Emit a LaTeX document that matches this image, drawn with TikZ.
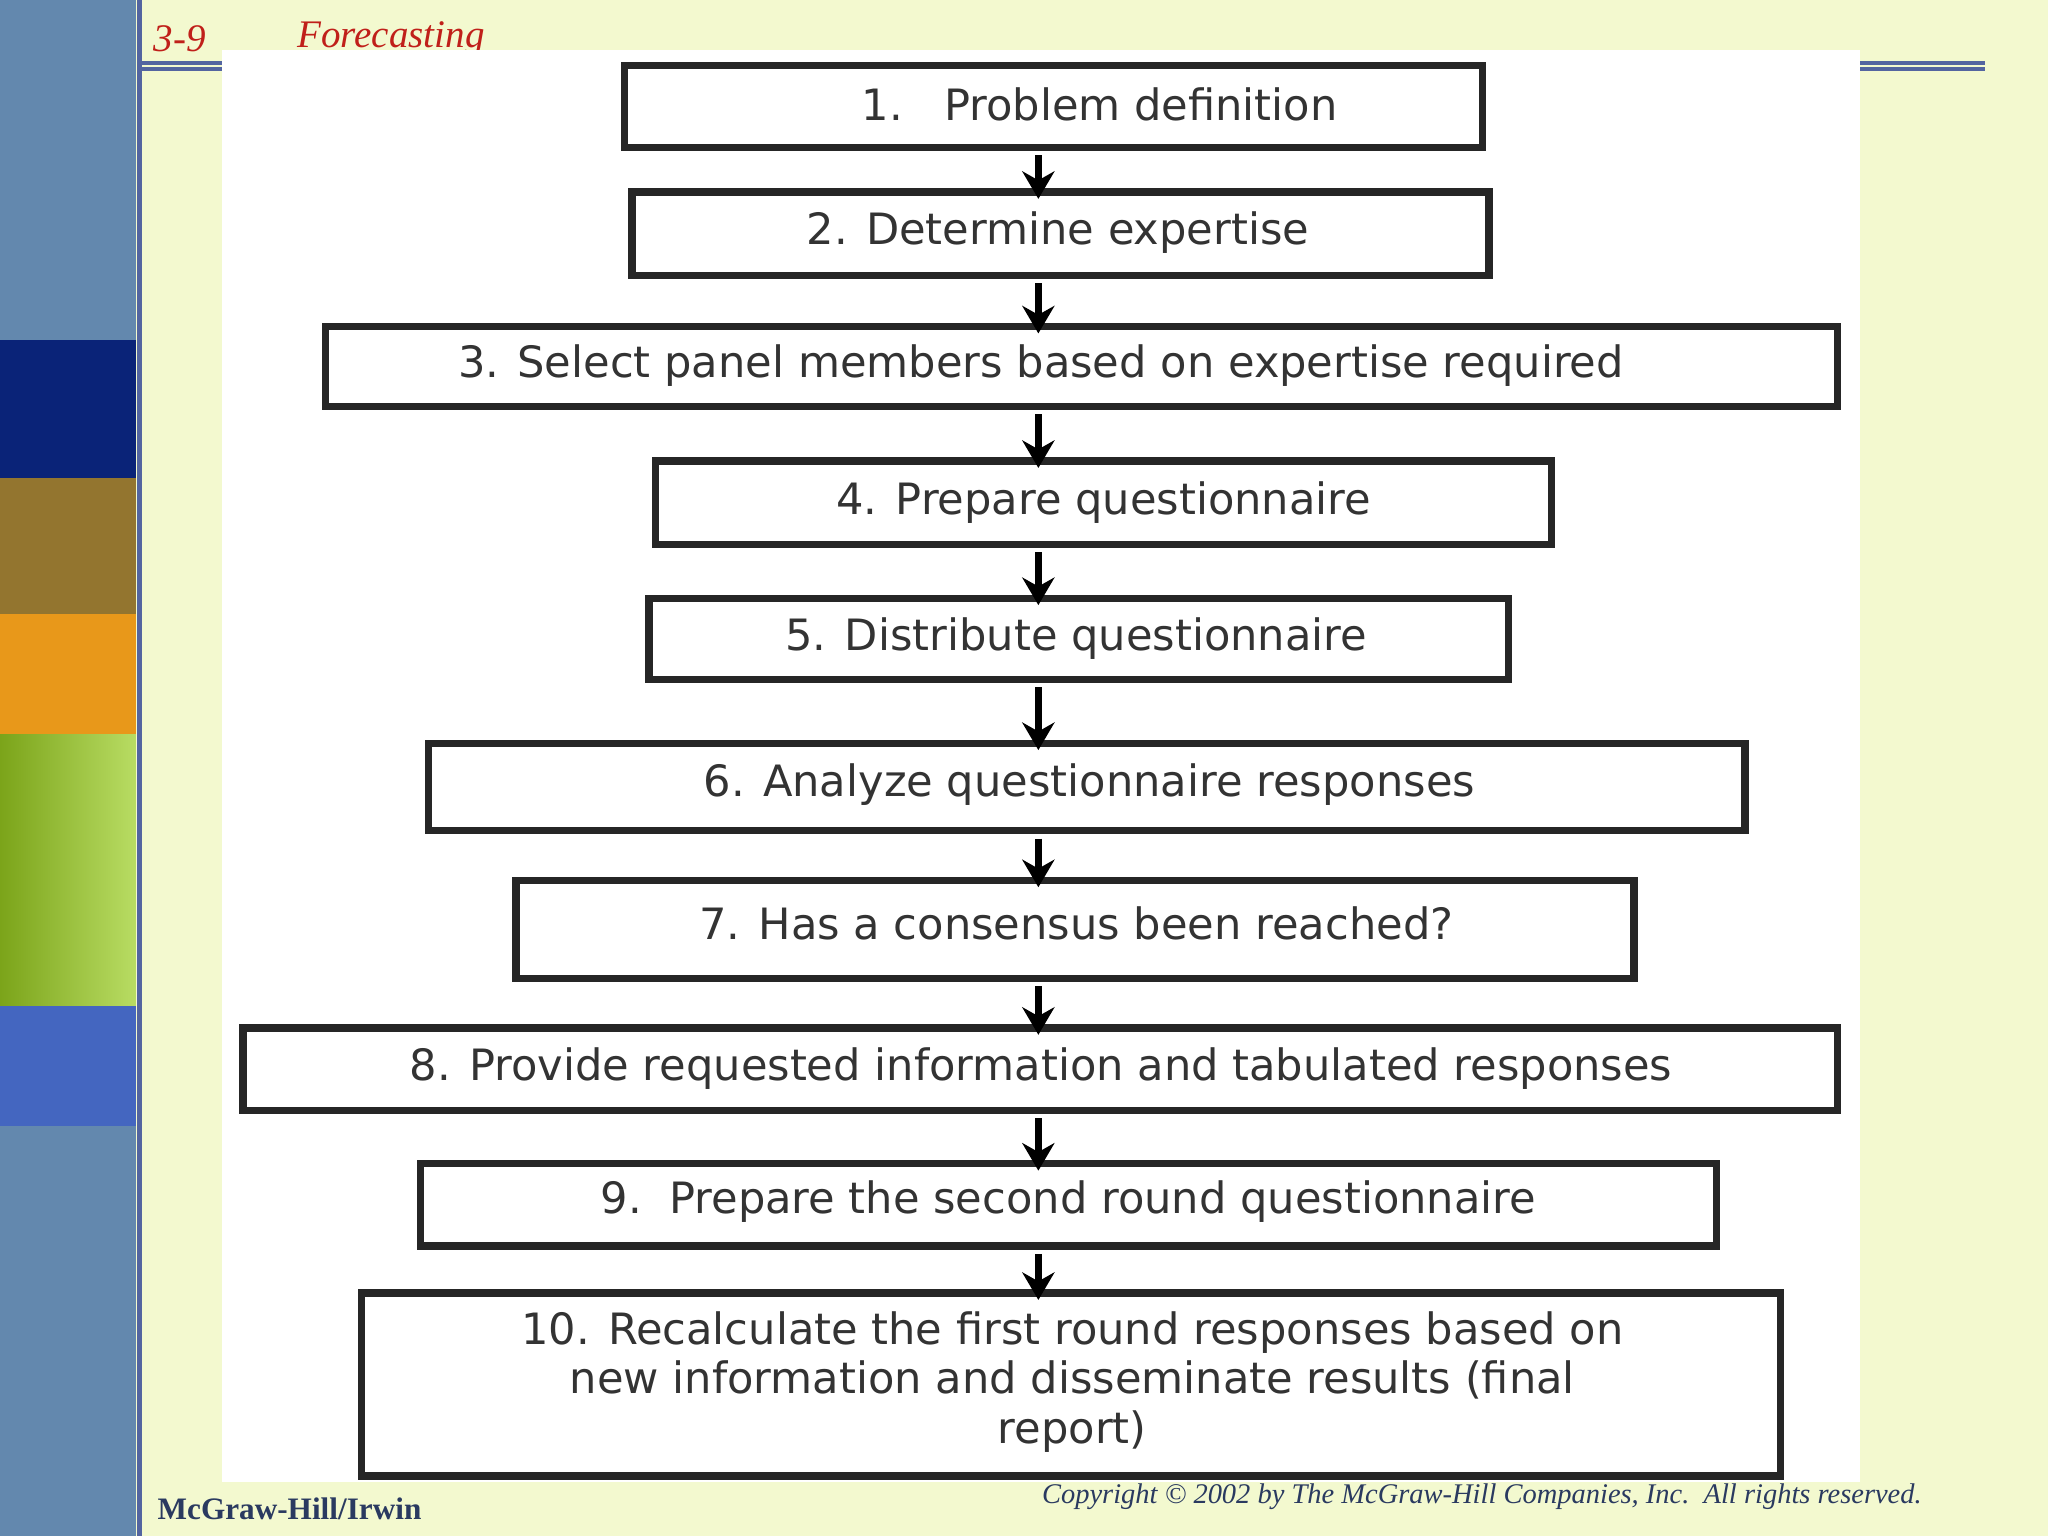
\documentclass[tikz,border=0pt]{standalone}
\usepackage{fontspec}
\setmainfont{Liberation Serif}
\newfontfamily\boxfont{DejaVu Sans}
\usetikzlibrary{arrows.meta}
\definecolor{steel}{HTML}{6388AE}
\definecolor{navy}{HTML}{0A2378}
\definecolor{olive}{HTML}{93752F}
\definecolor{orng}{HTML}{E8981A}
\definecolor{grn}{HTML}{9ACD20}
\definecolor{blu}{HTML}{4466C0}
\definecolor{bgy}{HTML}{F3F9CF}
\definecolor{hdr}{HTML}{C0201A}
\definecolor{foot}{HTML}{2A3A60}
\begin{document}
\begin{tikzpicture}[x=0.01cm,y=-0.01cm,
  stepbox/.style={draw=black!85,line width=1.6pt,fill=white},
  lbl/.style={font=\boxfont\fontsize{9.4}{10.5}\selectfont,text=black!80,align=center},
  arr/.style={-{Stealth[length=6pt,width=7pt]},line width=1.5pt,black}]
\useasboundingbox (0,0) rectangle (1568,1176);
\fill[bgy] (0,0) rectangle (1568,1176);
\fill[steel] (0,0) rectangle (104,260);
\fill[navy] (0,260) rectangle (104,366);
\fill[olive] (0,366) rectangle (104,470);
\fill[orng] (0,470) rectangle (104,562);
\shade[left color=grn!80!black,right color=grn!70!white] (0,562) rectangle (104,770);
\fill[blu] (0,770) rectangle (104,862);
\fill[steel] (0,862) rectangle (104,1176);
\draw[navy!70,line width=1pt] (107,0) -- (107,1176);
\draw[navy!70,line width=0.8pt] (107,48) -- (1520,48) (107,53) -- (1520,53);
\node[anchor=west,text=hdr,font=\itshape\fontsize{8.5}{10}\selectfont,inner sep=0pt] (h1) at (117,30) {3-9};
\node[anchor=west,text=hdr,font=\itshape\fontsize{8.5}{10}\selectfont,inner sep=0pt] (h2) at (227,30) {Forecasting};
\fill[white] (170,38) rectangle (1424,1135);
\node[anchor=west,text=foot,font=\bfseries\fontsize{6.8}{8}\selectfont,inner sep=0pt] (f1) at (120,1155) {McGraw-Hill/Irwin};
\node[anchor=east,text=foot,font=\itshape\fontsize{6.2}{7}\selectfont,inner sep=0pt] (f2) at (1472,1146) {Copyright \copyright{} 2002 by The McGraw-Hill Companies, Inc.\ \ All rights reserved.};
\foreach \n/\a/\b/\c/\d in {1/478/50/1135/113, 2/484/147/1140/211, 3/249/250/1407/311, 4/502/353/1188/417, 5/497/458/1155/520, 6/328/569/1336/636, 7/395/674/1251/749, 8/186/787/1407/850, 9/322/891/1314/954, 10/277/990/1363/1130}
  {\draw[stepbox] (\a,\b) rectangle (\c,\d);
   \coordinate (t\n) at (795,\b+6); \coordinate (b\n) at (795,\d+6);}
\node[lbl] (l1) at (842,80) {1.\ \ \ Problem definition};
\node[lbl] (l2) at (810,178) {2. Determine expertise};
\node[lbl] (l3) at (797,280) {3. Select panel members based on expertise required};
\node[lbl] (l4) at (845,385) {4. Prepare questionnaire};
\node[lbl] (l5) at (824,489) {5. Distribute questionnaire};
\node[lbl] (l6) at (834,601) {6. Analyze questionnaire responses};
\node[lbl] (l7) at (824,707) {7. Has a consensus been reached?};
\node[lbl] (l8) at (797,818) {8. Provide requested information and tabulated responses};
\node[lbl] (l9) at (818,920) {9.\ \ Prepare the second round questionnaire};
\node[lbl,font=\boxfont\fontsize{9.4}{10.8}\selectfont] (l10) at (821,1058) {10. Recalculate the first round responses based on\\new information and disseminate results (final\\report)};
\foreach \i/\j in {1/2,2/3,3/4,4/5,5/6,6/7,7/8,8/9,9/10}
  \draw[arr] (b\i) -- ([yshift=0.2pt]t\j);
\end{tikzpicture}
\end{document}
